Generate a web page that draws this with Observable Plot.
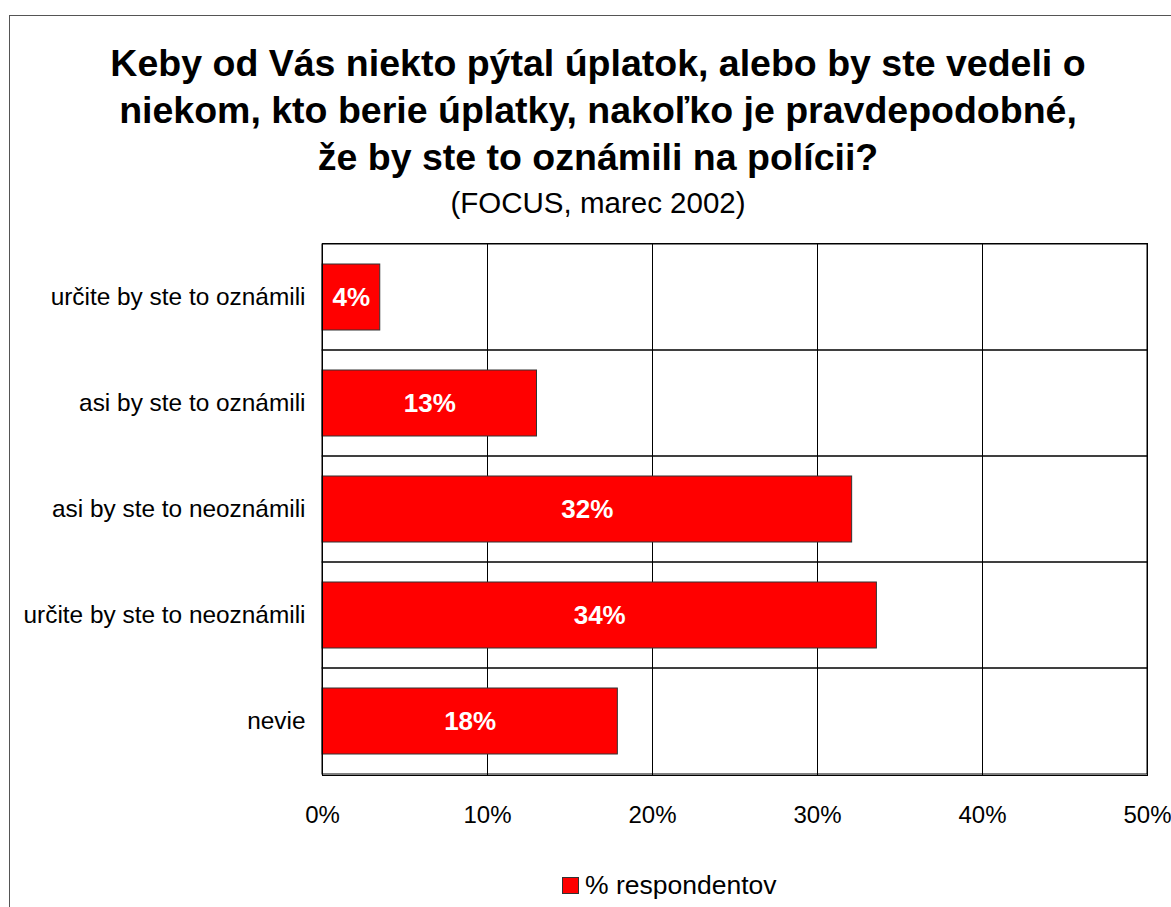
<!DOCTYPE html>
<html>
<head>
<meta charset="utf-8">
<script src="https://cdn.jsdelivr.net/npm/d3@7"></script>
<script src="https://cdn.jsdelivr.net/npm/@observablehq/plot@0.6"></script>
<style>
  html, body { margin: 0; padding: 0; background: #fff; }
  body { font-family: "Liberation Sans", Arial, sans-serif; }
  #wrap { position: relative; width: 1171px; height: 907px; overflow: hidden; background: #fff; }
  #border { position: absolute; left: 9px; top: 15px; width: 1400px; height: 1200px; border: 1px solid #555; box-sizing: border-box; }
  .tl { position: absolute; left: 0; width: 1196px; text-align: center; color: #000; white-space: nowrap; }
  .title { font-size: 37.5px; font-weight: bold; line-height: 37.5px; }
  .sub { font-size: 29.5px; line-height: 29.5px; }
  #chart { position: absolute; left: 0; top: 0; }
  #legend { position: absolute; left: 562px; top: 872px; font-size: 26.5px; line-height: 26.5px; white-space: nowrap; }
  #legend .sw { display: inline-block; width: 15px; height: 15px; background: #ff0000; border: 1px solid #333; vertical-align: baseline; margin-right: 6px; }
</style>
</head>
<body>
<div id="wrap">
  <div id="border"></div>
  <div id="chart"></div>
  <div class="tl title" id="t1" style="top:45px"></div>
  <div class="tl title" id="t2" style="top:92px"></div>
  <div class="tl title" id="t3" style="top:139px"></div>
  <div class="tl sub" id="st" style="top:188px"></div>
  <div id="legend"><span class="sw"></span><span id="legtext"></span></div>
</div>
<script>
const titleLines = [
  "Keby od Vás niekto pýtal úplatok, alebo by ste vedeli o",
  "niekom, kto berie úplatky, nakoľko je pravdepodobné,",
  "že by ste to oznámili na polícii?"
];
const subtitle = "(FOCUS, marec 2002)";
const seriesName = "% respondentov";
const categories = [
  "určite by ste to oznámili",
  "asi by ste to oznámili",
  "asi by ste to neoznámili",
  "určite by ste to neoznámili",
  "nevie"
];
const values = [3.5, 13.0, 32.1, 33.6, 17.9];
const labels = ["4%", "13%", "32%", "34%", "18%"];
const xTicks = [0, 10, 20, 30, 40, 50];

document.getElementById("t1").textContent = titleLines[0];
document.getElementById("t2").textContent = titleLines[1];
document.getElementById("t3").textContent = titleLines[2];
document.getElementById("st").textContent = subtitle;
document.getElementById("legtext").textContent = seriesName;

const data = categories.map((c, i) => ({cat: c, value: values[i], label: labels[i]}));

const chart = Plot.plot({
  width: 1171,
  height: 907,
  marginLeft: 322,
  marginRight: 24,
  marginTop: 243,
  marginBottom: 132,
  style: {background: "transparent", fontFamily: "'Liberation Sans', Arial, sans-serif", color: "#000", overflow: "visible"},
  x: {domain: [0, 50], ticks: xTicks},
  y: {type: "band", domain: categories, padding: 0},
  marks: [
    Plot.barX(categories, {x1: 0, x2: 50, y: d => d, fill: "none", stroke: "#000", strokeWidth: 1}),
    Plot.ruleX(xTicks.filter(t => t > 0 && t < 50), {stroke: "#000", strokeWidth: 1}),
    Plot.barX(data, {x: "value", y: "cat", fill: "#ff0000", stroke: "#333", strokeWidth: 1, insetTop: 20, insetBottom: 20}),
    Plot.text(data, {x: d => d.value / 2, y: "cat", text: "label", fill: "#fff", fontWeight: "bold", fontSize: 26}),
    Plot.frame({stroke: "#000", strokeWidth: 1}),
    Plot.axisX({ticks: xTicks, tickFormat: d => d + "%", tickSize: 0, tickPadding: 30, fontSize: 24, label: null}),
    Plot.axisY({tickSize: 0, tickPadding: 17, fontSize: 24.4, label: null})
  ]
});
document.getElementById("chart").appendChild(chart);
</script>
</body>
</html>
